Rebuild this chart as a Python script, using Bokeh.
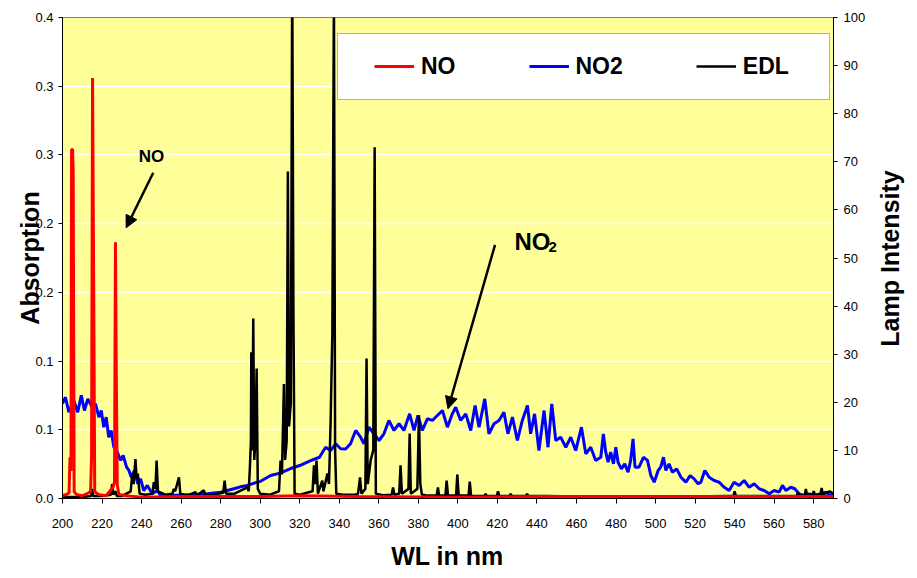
from math import pi
from bokeh.plotting import figure
from bokeh.models import (Range1d, LinearAxis, FixedTicker, Legend, LegendItem,
                          Label, Arrow, NormalHead, BoxAnnotation)
from bokeh.embed import file_html
from bokeh.resources import INLINE

FONT = "Liberation Sans"

# ---------------- data ----------------
x_ticks = [200, 220, 240, 260, 280, 300, 320, 340, 360, 380, 400, 420, 440,
           460, 480, 500, 520, 540, 560, 580]
left_ticks = [0, 0.05, 0.1, 0.15, 0.2, 0.25, 0.3, 0.35]
left_tick_labels = ["0.0", "0.1", "0.1", "0.2", "0.2", "0.3", "0.3", "0.4"]
right_ticks = [0, 10, 20, 30, 40, 50, 60, 70, 80, 90, 100]

# NO absorption (left axis): (wavelength nm, absorption)
no_points = [
    (200.0, 0.002), (202.0, 0.003), (203.3, 0.004), (203.8, 0.030), (204.3, 0.020),
    (204.6, 0.254), (205.1, 0.254), (205.4, 0.238), (205.9, 0.005), (207.0, 0.003),
    (210.0, 0.002), (213.0, 0.004), (214.2, 0.005), (214.7, 0.030), (215.2, 0.306),
    (215.8, 0.150), (216.3, 0.005), (218.0, 0.003), (222.0, 0.002), (225.5, 0.008),
    (226.3, 0.012), (226.8, 0.1865), (227.2, 0.091), (227.7, 0.010), (228.5, 0.003),
    (232.0, 0.002), (240.0, 0.001), (260.0, 0.0015), (300.0, 0.0015), (320.0, 0.002),
    (350.0, 0.0015), (400.0, 0.001), (450.0, 0.0015), (500.0, 0.0015), (550.0, 0.0015),
    (592.0, 0.0015),
]

# NO2 absorption (left axis)
no2_points = [
    (200.0, 0.069), (201.5, 0.0737), (203.2, 0.0628), (205.7, 0.0713), (207.7, 0.0628),
    (209.5, 0.075), (211.1, 0.064), (212.8, 0.0725), (215.0, 0.0664), (216.7, 0.0689),
    (218.4, 0.0592), (219.6, 0.064), (220.9, 0.0519), (222.1, 0.0592), (223.4, 0.0446),
    (224.6, 0.0495), (226.0, 0.0373), (227.7, 0.0337), (229.4, 0.0277), (230.7, 0.0313),
    (232.4, 0.0228), (233.6, 0.0204), (234.8, 0.0155), (236.4, 0.0204), (238.1, 0.0107),
    (239.5, 0.0143), (241.1, 0.0058), (242.9, 0.0095), (245.4, 0.0034), (247.9, 0.0058),
    (249.6, 0.0022), (254.7, 0.0022), (259.7, 0.0025), (266.4, 0.0029), (273.2, 0.0034),
    (280.0, 0.0046), (286.7, 0.0071), (290.0, 0.0085), (293.5, 0.0095), (297.0, 0.0112),
    (300.2, 0.0125), (305.3, 0.0167), (310.0, 0.0185), (315.4, 0.0218), (320.0, 0.0240),
    (325.5, 0.0276), (330.0, 0.0300), (333.1, 0.0373), (335.6, 0.0349), (338.2, 0.0398),
    (340.7, 0.0362), (343.2, 0.0360), (345.7, 0.0398), (348.3, 0.0495), (350.8, 0.0446),
    (352.5, 0.0398), (355.0, 0.0519), (357.5, 0.0471), (360.1, 0.0422), (362.6, 0.0471),
    (365.1, 0.0568), (367.7, 0.0495), (370.2, 0.0544), (372.7, 0.0495), (375.6, 0.0616),
    (377.8, 0.0495), (379.8, 0.0604), (382.0, 0.0495), (384.6, 0.0580), (387.1, 0.0568),
    (389.6, 0.0604), (392.2, 0.0640), (394.7, 0.0519), (397.2, 0.0616), (398.9, 0.0664),
    (401.4, 0.0568), (404.0, 0.0616), (406.5, 0.0495), (408.7, 0.0677), (410.7, 0.0519),
    (413.6, 0.0725), (415.7, 0.0471), (418.3, 0.0544), (420.8, 0.0568), (423.3, 0.0628),
    (425.3, 0.0471), (427.6, 0.0592), (430.1, 0.0422), (432.6, 0.0568), (435.2, 0.0677),
    (436.8, 0.0471), (438.8, 0.0616), (441.0, 0.0349), (443.6, 0.0640), (445.6, 0.0373),
    (447.5, 0.0689), (449.5, 0.0422), (452.0, 0.0446), (454.6, 0.0373), (457.1, 0.0446),
    (459.6, 0.0349), (462.5, 0.0519), (464.7, 0.0325), (467.2, 0.0373), (469.7, 0.0277),
    (472.3, 0.0300), (473.6, 0.0470), (474.8, 0.0337), (476.0, 0.0264), (477.3, 0.0337),
    (478.7, 0.0252), (479.9, 0.0373), (481.0, 0.0264), (482.7, 0.0216), (484.4, 0.0252),
    (486.1, 0.0191), (487.4, 0.0277), (488.6, 0.0434), (489.6, 0.0228), (491.6, 0.0228),
    (493.9, 0.0300), (495.9, 0.0277), (497.6, 0.0167), (499.3, 0.0119), (501.3, 0.0204),
    (502.6, 0.0228), (504.0, 0.0300), (505.2, 0.0204), (506.8, 0.0252), (508.5, 0.0191),
    (510.7, 0.0216), (512.8, 0.0155), (515.3, 0.0119), (517.5, 0.0167), (519.5, 0.0143),
    (521.5, 0.0107), (522.9, 0.0119), (524.9, 0.0204), (527.1, 0.0155), (529.6, 0.0131),
    (532.1, 0.0119), (534.7, 0.0082), (537.2, 0.0058), (539.7, 0.0119), (542.3, 0.0095),
    (544.8, 0.0131), (547.3, 0.0082), (549.9, 0.0107), (552.4, 0.0071), (554.9, 0.0058),
    (557.5, 0.0034), (560.0, 0.0058), (562.5, 0.0046), (564.2, 0.0095), (565.9, 0.0058),
    (568.4, 0.0082), (570.4, 0.0071), (572.6, 0.0034), (575.1, 0.0022), (577.7, 0.0034),
    (580.2, 0.0022), (583.6, 0.0034), (586.1, 0.0046), (588.7, 0.0022), (591.2, 0.0046),
]

# EDL lamp intensity (right axis)
edl_points = [
    (200.0, 0.3), (210.0, 0.3), (214.5, 0.5), (215.0, 2.0), (215.5, 0.5), (220.0, 0.5),
    (224.5, 0.8), (225.1, 3.0), (225.7, 0.8), (226.8, 1.5), (227.5, 0.5), (230.0, 0.5),
    (234.5, 1.5), (235.3, 5.2), (236.0, 3.0), (236.9, 8.2), (237.5, 4.0), (238.1, 5.2),
    (239.0, 1.0), (242.0, 0.8), (245.5, 1.0), (246.2, 3.4), (247.0, 2.0), (247.6, 7.9),
    (248.3, 1.5), (252.0, 0.8), (255.6, 1.0), (256.3, 2.0), (257.0, 1.5), (258.9, 4.4),
    (259.6, 1.0), (263.0, 0.6), (267.3, 1.3), (268.0, 0.6), (271.5, 1.7), (272.3, 0.7),
    (276.0, 0.8), (281.3, 1.2), (282.0, 3.7), (282.7, 1.0), (287.0, 1.0), (293.5, 2.3),
    (294.2, 1.5), (294.8, 6.5), (295.3, 12.0), (295.5, 30.4), (296.0, 10.0), (296.5, 37.4),
    (297.0, 8.0), (297.6, 12.0), (298.2, 27.0), (298.8, 2.0), (300.0, 1.0), (305.0, 0.8),
    (309.5, 1.5), (310.3, 7.9), (311.0, 5.0), (312.0, 23.8), (312.6, 8.0), (313.4, 12.0),
    (314.0, 68.0), (314.6, 15.0), (315.5, 20.0), (316.2, 110.0), (316.8, 40.0), (317.4, 1.0),
    (320.0, 0.8), (326.5, 1.5), (327.2, 6.9), (327.8, 3.0), (328.5, 7.9), (329.2, 1.0),
    (331.4, 3.7), (332.0, 1.5), (334.0, 5.2), (334.8, 3.0), (335.6, 15.6), (336.5, 34.6),
    (337.3, 105.0), (337.9, 10.0), (338.5, 1.0), (342.0, 0.8), (348.0, 0.8), (349.5, 1.0),
    (350.5, 4.4), (351.2, 1.0), (353.2, 2.0), (353.8, 29.1), (354.4, 3.0), (355.9, 8.0),
    (357.2, 10.0), (357.9, 73.0), (358.5, 1.0), (362.0, 0.7), (366.5, 0.8), (367.2, 2.3),
    (367.9, 0.8), (370.3, 1.0), (371.0, 6.9), (371.7, 1.0), (375.0, 2.0), (375.6, 13.5),
    (376.2, 1.0), (379.5, 2.0), (380.3, 17.3), (381.0, 3.0), (381.8, 0.8), (385.0, 0.6),
    (389.3, 0.6), (389.9, 2.3), (390.5, 0.6), (393.7, 0.6), (394.3, 3.7), (395.0, 0.6),
    (399.1, 0.6), (399.7, 5.0), (400.4, 0.6), (405.4, 0.6), (406.0, 3.5), (406.7, 0.5),
    (413.4, 0.5), (414.0, 1.0), (414.6, 0.5), (419.7, 0.5), (420.3, 1.5), (420.9, 0.5),
    (426.1, 0.5), (426.7, 1.0), (427.3, 0.5), (434.4, 0.5), (435.0, 1.0), (435.6, 0.5),
    (445.0, 0.5), (460.0, 0.4), (480.0, 0.3), (500.0, 0.3), (520.0, 0.4), (535.0, 0.5),
    (539.4, 0.5), (540.0, 1.5), (540.6, 0.5), (560.0, 0.5), (571.4, 0.5), (572.0, 1.2),
    (572.6, 0.6), (575.4, 0.6), (576.0, 2.0), (576.6, 0.8), (579.4, 0.8), (580.0, 1.5),
    (580.6, 0.8), (583.4, 0.8), (584.0, 2.2), (584.6, 0.8), (588.0, 1.5), (590.0, 1.0),
    (592.0, 1.5),
]

no_wl = [a for a, b in no_points]
no_abs = [b for a, b in no_points]
no2_wl = [a for a, b in no2_points]
no2_abs = [b for a, b in no2_points]
edl_wl = [a for a, b in edl_points]
edl_int = [b for a, b in edl_points]

# ---------------- figure ----------------
p = figure(width=909, height=570,
           x_range=Range1d(200, 590), y_range=Range1d(0, 0.35),
           output_backend="svg", toolbar_location=None,
           min_border_left=62, min_border_right=76,
           min_border_top=17, min_border_bottom=72)
p.background_fill_color = "#FFFF99"
p.border_fill_color = "white"
p.outline_line_color = "#808080"
p.outline_line_width = 1
p.extra_y_ranges = {"lamp": Range1d(0, 100)}


def style_axis(ax, tick_out=5, standoff=5):
    ax.axis_line_color = "black"
    ax.axis_line_width = 1
    ax.major_tick_line_color = "black"
    ax.major_tick_out = tick_out
    ax.major_tick_in = 0
    ax.minor_tick_line_color = None
    ax.major_label_text_font = FONT
    ax.major_label_text_font_size = "13px"
    ax.major_label_text_color = "black"
    ax.major_label_standoff = standoff
    ax.axis_label_text_font = FONT
    ax.axis_label_text_font_style = "bold"
    ax.axis_label_text_font_size = "25px"
    ax.axis_label_text_color = "black"


p.xaxis.ticker = FixedTicker(ticks=x_ticks)
style_axis(p.xaxis[0], tick_out=5, standoff=15)

p.yaxis.ticker = FixedTicker(ticks=left_ticks)
p.yaxis.major_label_overrides = dict(zip(left_ticks, left_tick_labels))
style_axis(p.yaxis[0], tick_out=4, standoff=5)
p.yaxis.axis_label = "Absorption"
p.yaxis.axis_label_standoff = -12

right_axis = LinearAxis(y_range_name="lamp", ticker=FixedTicker(ticks=right_ticks))
style_axis(right_axis, tick_out=4, standoff=6)
p.add_layout(right_axis, "right")

# axis titles placed in the side panels
p.add_layout(Label(x=21, y=240, x_units="screen", y_units="screen",
                   text="Lamp Intensity", angle=pi / 2,
                   text_align="center", text_baseline="middle",
                   text_font=FONT, text_font_style="bold",
                   text_font_size="25px", text_color="black"), "right")
p.add_layout(Label(x=385, y=3, x_units="screen", y_units="screen",
                   text="WL in nm",
                   text_align="center", text_baseline="middle",
                   text_font=FONT, text_font_style="bold",
                   text_font_size="25px", text_color="black"), "below")

p.xgrid.visible = False
p.ygrid.ticker = FixedTicker(ticks=left_ticks)
p.ygrid.grid_line_color = "white"
p.ygrid.grid_line_width = 1.5

# ---------------- series ----------------
r_no2 = p.line(no2_wl, no2_abs, line_color="#0000FF", line_width=3)
r_edl = p.line(edl_wl, edl_int, line_color="black", line_width=2.5, y_range_name="lamp")
r_no = p.line(no_wl, no_abs, line_color="#FF0000", line_width=3)

# ---------------- legend ----------------
box = BoxAnnotation(left=275, right=767, top=465, bottom=399,
                    left_units="screen", right_units="screen",
                    top_units="screen", bottom_units="screen",
                    fill_color="white", fill_alpha=1.0,
                    line_color="black", line_width=1)
p.add_layout(box)

legend = Legend(items=[LegendItem(label="NO", renderers=[r_no]),
                       LegendItem(label="NO2", renderers=[r_no2]),
                       LegendItem(label="EDL", renderers=[r_edl])],
                orientation="horizontal", location=(276, 382),
                padding=36, spacing=73, margin=0,
                glyph_width=40, glyph_height=28, label_height=28,
                label_standoff=7,
                label_text_font=FONT, label_text_font_style="bold",
                label_text_font_size="23px", label_text_color="black",
                border_line_alpha=0, background_fill_alpha=0)
p.add_layout(legend, "center")

# ---------------- annotations ----------------
p.add_layout(Label(x=89, y=342, x_units="screen", y_units="screen",
                   text="NO", text_align="center", text_baseline="middle",
                   text_font=FONT, text_font_style="bold",
                   text_font_size="17px", text_color="black"))
p.add_layout(Arrow(x_start=245.9, y_start=0.237, x_end=232.2, y_end=0.197,
                   line_color="black", line_width=2.5,
                   end=NormalHead(size=12, fill_color="black", line_color="black")))

p.add_layout(Label(x=452, y=257, x_units="screen", y_units="screen",
                   text="NO", text_align="left", text_baseline="middle",
                   text_font=FONT, text_font_style="bold",
                   text_font_size="24px", text_color="black"))
p.add_layout(Label(x=486, y=252, x_units="screen", y_units="screen",
                   text="2", text_align="left", text_baseline="middle",
                   text_font=FONT, text_font_style="bold",
                   text_font_size="15px", text_color="black"))
p.add_layout(Arrow(x_start=418.8, y_start=0.1846, x_end=395.0, y_end=0.0653,
                   line_color="black", line_width=2.5,
                   end=NormalHead(size=12, fill_color="black", line_color="black")))

open("out.html", "w").write(file_html(p, INLINE))
